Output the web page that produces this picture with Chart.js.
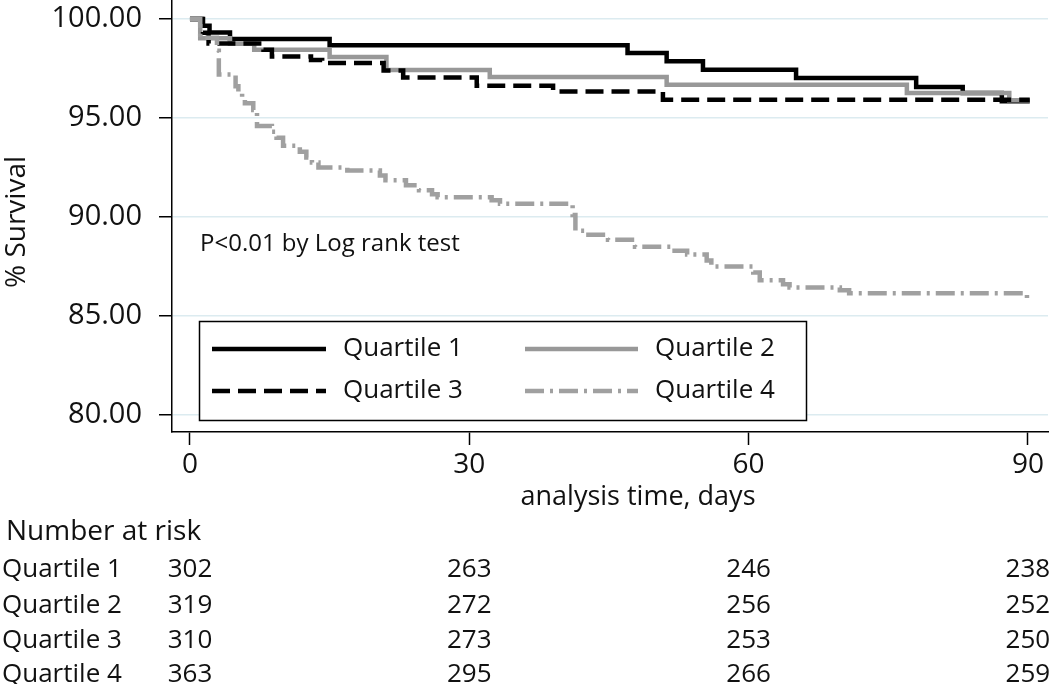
<!DOCTYPE html>
<html lang="en">
<head>
    <meta charset="UTF-8">
    <title>Survival by quartile</title>
    <style>
        body { margin: 0; background: #fff; }
    </style>
</head>
<body>
    <canvas id="kmChart" width="1050" height="684"></canvas>

    <script src="https://cdn.jsdelivr.net/npm/chart.js@4.4.0/dist/chart.umd.min.js"></script>
    <script>
        const quartileLabels = ['Quartile 1', 'Quartile 2', 'Quartile 3', 'Quartile 4'];

        // step curves (day of drop, survival after drop)
        const q1Days = [0, 1.3, 2.1, 4.3, 15.0, 47.0, 51.2, 55.1, 65.1, 78.0, 83.0, 87.2, 90.2];
        const q1Surv = [100, 99.66, 99.32, 98.99, 98.67, 98.28, 97.86, 97.44, 97.02, 96.57, 96.26, 95.84, 95.84];

        const q2Days = [0, 1.1, 4.3, 6.9, 15.0, 21.1, 32.2, 51.2, 77.0, 88.0, 90.2];
        const q2Surv = [100, 99.03, 98.75, 98.45, 98.08, 97.42, 97.07, 96.68, 96.26, 95.9, 95.9];

        const q3Days = [0, 1.4, 2.0, 7.9, 8.8, 13.0, 14.2, 20.8, 22.9, 30.8, 39.0, 50.8, 90.2];
        const q3Surv = [100, 99.3, 98.76, 98.45, 98.1, 97.93, 97.78, 97.4, 97.05, 96.63, 96.34, 95.92, 95.92];

        const q4Days = [0, 1.1, 2.9, 3.1, 4.9, 5.2, 5.6, 5.9, 6.8, 7.2, 8.8, 9.3, 10.0, 11.8, 12.5, 13.1, 13.8,
            16.9, 20.4, 21.0, 23.2, 24.6, 26.0, 26.6, 32.4, 33.3, 41.1, 41.4, 42.5, 44.9, 47.8, 51.8, 53.4,
            55.5, 56.0, 60.5, 61.2, 63.7, 64.4, 69.8, 70.8, 89.9, 90.2];
        const q4Surv = [100, 99.05, 98.4, 97.2, 96.6, 96.3, 96.0, 95.75, 95.4, 94.6, 94.3, 94.0, 93.6, 93.3, 93.0, 92.75, 92.5,
            92.35, 92.1, 91.85, 91.6, 91.35, 91.15, 91.0, 90.85, 90.67, 90.1, 89.3, 89.1, 88.85, 88.5, 88.3, 88.1,
            87.8, 87.5, 87.2, 86.8, 86.6, 86.44, 86.3, 86.15, 85.8, 85.8];

        const xTicks = [0, 30, 60, 90];
        const yTicks = [80, 85, 90, 95, 100];

        // number at risk table
        const riskDays = [0, 30, 60, 90];
        const q1Risk = [302, 263, 246, 238];
        const q2Risk = [319, 272, 256, 252];
        const q3Risk = [310, 273, 253, 250];
        const q4Risk = [363, 295, 266, 259];

        const pNote = 'P<0.01 by Log rank test';
        const xTitle = 'analysis time, days';
        const yTitle = '% Survival';

        const FONT = "'Open Sans', sans-serif";
        const INK = '#111';

        function toPoints(days, surv) {
            return days.map((d, i) => ({ x: d, y: surv[i] }));
        }

        const styles = [
            { color: '#000000', dash: [] },
            { color: '#989898', dash: [] },
            { color: '#000000', dash: [18, 8] },
            { color: '#a0a0a0', dash: [19, 6, 3, 6] }
        ];
        const curves = [[q1Days, q1Surv], [q2Days, q2Surv], [q3Days, q3Surv], [q4Days, q4Surv]];

        const datasets = curves.map((c, i) => ({
            label: quartileLabels[i],
            data: toPoints(c[0], c[1]),
            borderColor: styles[i].color,
            borderDash: styles[i].dash,
            borderWidth: 4.5,
            borderCapStyle: 'butt',
            borderJoinStyle: 'miter',
            stepped: true,
            pointRadius: 0,
            fill: false,
            order: 4 - i
        }));

        // titles, legend box, note and risk table, drawn by hand
        const extras = {
            id: 'extras',
            afterDraw(chart) {
                const ctx = chart.ctx;
                const x = chart.scales.x;
                ctx.save();
                ctx.fillStyle = INK;
                ctx.textBaseline = 'middle';

                // axis titles
                ctx.font = '27px ' + FONT;
                ctx.textAlign = 'center';
                ctx.fillText(xTitle, 638, 497);
                ctx.save();
                ctx.translate(17, 222);
                ctx.rotate(-Math.PI / 2);
                ctx.font = '28px ' + FONT;
                ctx.fillText(yTitle, 0, 0);
                ctx.restore();

                // p value note
                ctx.font = '24px ' + FONT;
                ctx.textAlign = 'left';
                ctx.fillText(pNote, 200, 244);

                // legend
                ctx.fillStyle = '#fff';
                ctx.fillRect(199.5, 321.5, 607, 99);
                ctx.strokeStyle = '#000';
                ctx.lineWidth = 1.5;
                ctx.setLineDash([]);
                ctx.strokeRect(199.5, 321.5, 607, 99);

                const cols = [{ x1: 212, x2: 326, tx: 343 }, { x1: 525, x2: 638, tx: 655 }];
                const rows = [349, 391];
                const place = [[0, 0], [1, 0], [0, 1], [1, 1]]; // col,row
                datasets.forEach((ds, i) => {
                    const c = cols[place[i][0]];
                    const y = rows[place[i][1]];
                    ctx.beginPath();
                    ctx.strokeStyle = ds.borderColor;
                    ctx.lineWidth = ds.borderWidth;
                    ctx.lineCap = 'butt';
                    ctx.setLineDash(ds.borderDash);
                    ctx.moveTo(c.x1, y);
                    ctx.lineTo(c.x2, y);
                    ctx.stroke();
                    ctx.setLineDash([]);
                    ctx.fillStyle = INK;
                    ctx.font = '26px ' + FONT;
                    ctx.textAlign = 'left';
                    ctx.fillText(ds.label, c.tx, y);
                });

                // number at risk
                ctx.fillStyle = INK;
                ctx.font = '28px ' + FONT;
                ctx.textAlign = 'left';
                ctx.fillText('Number at risk', 6, 532);
                ctx.font = '26px ' + FONT;
                const riskRows = [q1Risk, q2Risk, q3Risk, q4Risk];
                const rowY = [570, 606, 641, 675];
                riskRows.forEach((vals, r) => {
                    ctx.textAlign = 'left';
                    ctx.fillText(quartileLabels[r], 2, rowY[r]);
                    ctx.textAlign = 'center';
                    vals.forEach((v, k) => {
                        ctx.fillText(String(v), x.getPixelForValue(riskDays[k]), rowY[r]);
                    });
                });
                ctx.restore();
            }
        };

        const ctx = document.getElementById('kmChart');
        const chart = new Chart(ctx, {
            type: 'line',
            data: { datasets: datasets },
            options: {
                responsive: false,
                animation: false,
                devicePixelRatio: 1,
                layout: { padding: { left: 0, right: 2, top: 0, bottom: 152 } },
                plugins: {
                    legend: { display: false },
                    tooltip: { enabled: false }
                },
                scales: {
                    x: {
                        type: 'linear',
                        min: -1.93,
                        max: 92.16,
                        afterFit: s => {
                            s.height = 100;
                            s.paddingLeft = 0;
                            s.paddingRight = 0;
                        },
                        afterBuildTicks: s => { s.ticks = xTicks.map(v => ({ value: v })); },
                        border: { color: '#000', width: 1.5 },
                        grid: { drawOnChartArea: false, tickLength: 13, tickColor: '#000', tickWidth: 1.5 },
                        ticks: { color: INK, font: { family: FONT, size: 28 }, padding: 3, maxRotation: 0 }
                    },
                    y: {
                        type: 'linear',
                        min: 79.14,
                        max: 100.96,
                        afterFit: s => {
                            s.width = 172;
                            s.paddingTop = 0;
                            s.paddingBottom = 0;
                        },
                        afterBuildTicks: s => { s.ticks = yTicks.map(v => ({ value: v })); },
                        border: { color: '#000', width: 1.5 },
                        grid: { color: '#dcebf0', lineWidth: 1.5, tickLength: 13, tickColor: '#000', tickWidth: 1.5 },
                        ticks: {
                            color: INK,
                            font: { family: FONT, size: 29 },
                            padding: 17,
                            callback: v => Number(v).toFixed(2)
                        }
                    }
                }
            },
            plugins: [extras]
        });
    </script>
</body>
</html>
